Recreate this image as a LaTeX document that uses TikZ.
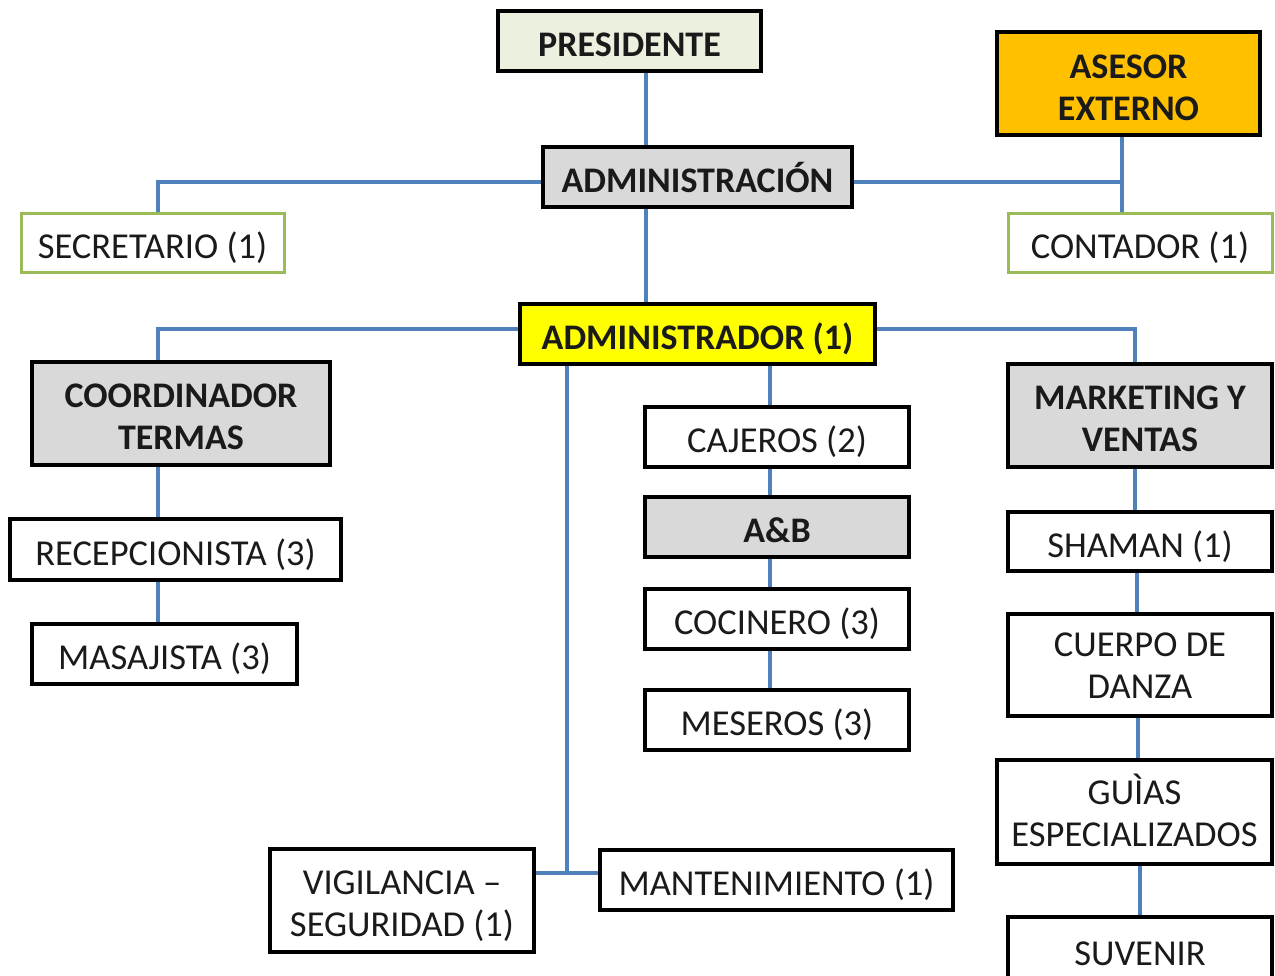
\documentclass[tikz,border=0pt]{standalone}
\usepackage{fontspec}
\setmainfont{Carlito}
\usetikzlibrary{backgrounds}
\definecolor{linkblue}{HTML}{4F81BD}
\definecolor{presfill}{HTML}{EBF1DE}
\definecolor{grayfill}{HTML}{D9D9D9}
\definecolor{orangefill}{HTML}{FFC000}
\definecolor{yellowfill}{HTML}{FFFF00}
\definecolor{greenborder}{HTML}{9BBB59}
\definecolor{txt}{HTML}{1A1A1A}
\newcommand\firstlift[1]{\rule{0pt}{#1}}
\tikzset{
  box/.style={draw=black, line width=4.5pt, fill=white, inner sep=0pt, align=center,
    text=txt, font=\fontsize{36.5}{42}\selectfont,
    execute at begin node=\rule{0pt}{40pt},
    execute at end node=\rule[-9pt]{0pt}{0pt}},
  boldbox/.style={box, font=\fontsize{36}{42}\selectfont\bfseries},
  greenbox/.style={box, draw=greenborder, line width=3pt},
  link/.style={draw=linkblue, line width=4pt},
}
\begin{document}
\begin{tikzpicture}[x=1pt,y=-1pt]
\useasboundingbox (0,0) rectangle (1275,976);
% helper coordinates
\coordinate (c158) at (158,0);
\coordinate (c567) at (567,0);
\coordinate (c646) at (646,0);
\coordinate (c770) at (770,0);
\coordinate (c1122) at (1122,0);
\coordinate (c1135) at (1135,0);
\coordinate (c1137) at (1137,0);
\coordinate (c1138) at (1138,0);
\coordinate (c1140) at (1140,0);
\coordinate (y182) at (0,182);
\coordinate (y329) at (0,329);
\coordinate (y873) at (0,873);
% nodes
\node[boldbox, fill=presfill, minimum width=263pt, minimum height=60pt] (pres) at (629.5,41) {PRESIDENTE};
\node[boldbox, fill=grayfill, minimum width=309pt, minimum height=60pt] (adm) at (697.5,177) {ADMINISTRACIÓN};
\node[boldbox, fill=orangefill, minimum width=263pt, minimum height=103pt] (ases) at (1128.5,83.5) {\firstlift{41pt}ASESOR\\EXTERNO};
\node[greenbox, minimum width=263pt, minimum height=59pt] (sec) at (152.5,243.5) {SECRETARIO (1)};
\node[greenbox, minimum width=264pt, minimum height=59pt] (cont) at (1140,243.5) {CONTADOR (1)};
\node[boldbox, fill=yellowfill, minimum width=355pt, minimum height=60pt] (admr) at (697.5,334) {ADMINISTRADOR (1)};
\node[boldbox, fill=grayfill, minimum width=298pt, minimum height=103pt] (coord) at (181,413.5) {\firstlift{39pt}COORDINADOR\\TERMAS};
\node[boldbox, fill=grayfill, minimum width=264pt, minimum height=103pt] (mkt) at (1140,415.5) {\firstlift{39pt}MARKETING Y\\VENTAS};
\node[box, minimum width=264pt, minimum height=60pt] (caj) at (777,437) {CAJEROS (2)};
\node[boldbox, fill=grayfill, minimum width=264pt, minimum height=60pt] (ab) at (777,527) {A\&B};
\node[box, minimum width=264pt, minimum height=60pt] (coc) at (777,619) {COCINERO (3)};
\node[box, minimum width=264pt, minimum height=60pt] (mes) at (777,720) {MESEROS (3)};
\node[box, minimum width=331pt, minimum height=61pt] (rec) at (175.5,549.5) {RECEPCIONISTA (3)};
\node[box, minimum width=265pt, minimum height=60pt] (mas) at (164.5,654) {MASAJISTA (3)};
\node[box, minimum width=264pt, minimum height=59pt] (sham) at (1140,541.5) {SHAMAN (1)};
\node[box, minimum width=264pt, minimum height=102pt] (cuer) at (1140,665) {\firstlift{34pt}CUERPO DE\\DANZA};
\node[box, minimum width=275pt, minimum height=104pt] (guia) at (1134.5,812) {\firstlift{36pt}GUÌAS\\ESPECIALIZADOS};
\node[box, minimum width=264pt, minimum height=66pt] (suv) at (1140,950) {SUVENIR};
\node[box, minimum width=264pt, minimum height=103pt] (vig) at (402,900.5) {\firstlift{39pt}VIGILANCIA –\\SEGURIDAD (1)};
\node[box, minimum width=353pt, minimum height=60pt] (mant) at (776.5,880) {MANTENIMIENTO (1)};
% connectors
\begin{scope}[on background layer]
\draw[link] (pres.south -| c646) -- (adm.north -| c646);
\draw[link] (adm.south -| c646) -- (admr.north -| c646);
\draw[link] (adm.west |- y182) -- (c158 |- y182) -- (sec.north -| c158);
\draw[link] (adm.east |- y182) -- (c1122 |- y182);
\draw[link] (ases.south -| c1122) -- (cont.north -| c1122);
\draw[link] (admr.west |- y329) -- (c158 |- y329) -- (coord.north -| c158);
\draw[link] (admr.east |- y329) -- (c1135 |- y329) -- (mkt.north -| c1135);
\draw[link] (admr.south -| c567) -- (c567 |- y873);
\draw[link] (vig.east |- y873) -- (mant.west |- y873);
\draw[link] (admr.south -| c770) -- (caj.north -| c770);
\draw[link] (caj.south -| c770) -- (ab.north -| c770);
\draw[link] (ab.south -| c770) -- (coc.north -| c770);
\draw[link] (coc.south -| c770) -- (mes.north -| c770);
\draw[link] (coord.south -| c158) -- (rec.north -| c158);
\draw[link] (rec.south -| c158) -- (mas.north -| c158);
\draw[link] (mkt.south -| c1135) -- (sham.north -| c1135);
\draw[link] (sham.south -| c1137) -- (cuer.north -| c1137);
\draw[link] (cuer.south -| c1138) -- (guia.north -| c1138);
\draw[link] (guia.south -| c1140) -- (suv.north -| c1140);
\end{scope}
\end{tikzpicture}
\end{document}
